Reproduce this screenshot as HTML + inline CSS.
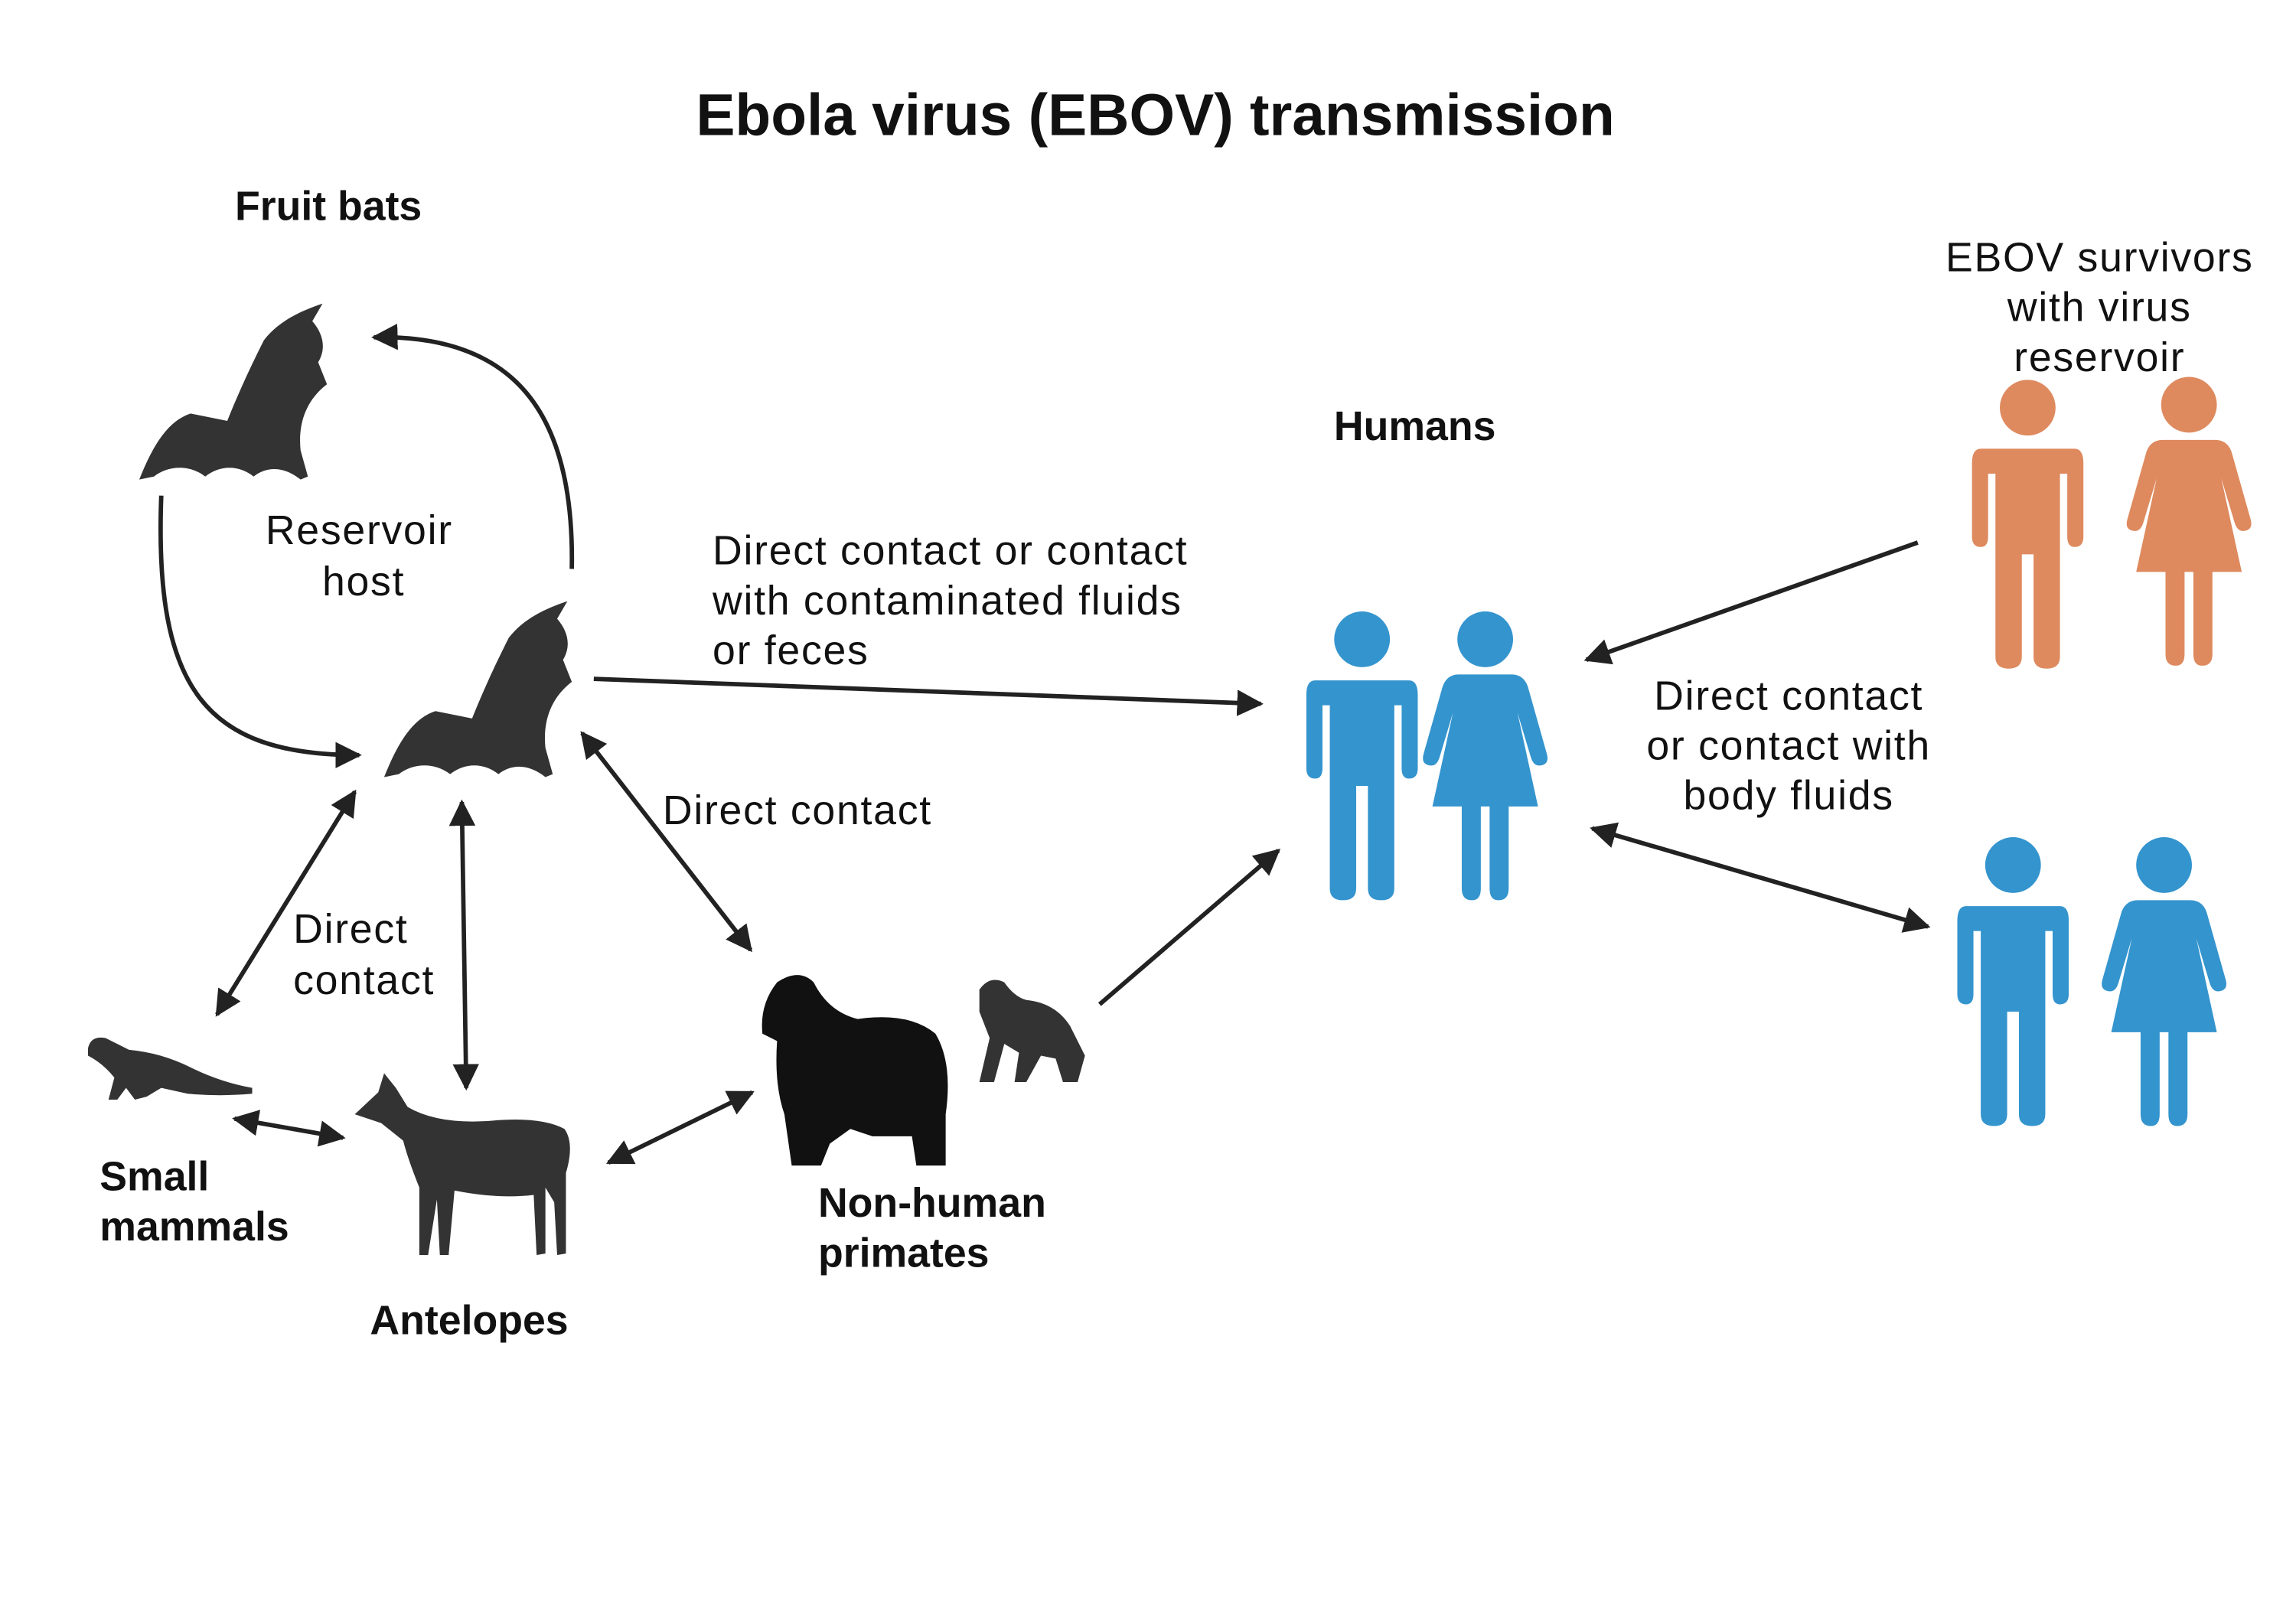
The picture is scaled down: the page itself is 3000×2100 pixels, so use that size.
<!DOCTYPE html>
<html><head><meta charset="utf-8"><style>
html,body{margin:0;padding:0;background:#fff;}
svg{display:block;}
text{font-family:"Liberation Sans",sans-serif;fill:#111;}
.r{letter-spacing:0.9px;}
</style></head><body>
<svg width="3000" height="2100" viewBox="0 0 1566 1096" xmlns="http://www.w3.org/2000/svg">
<defs>
<marker id="a" viewBox="0 0 10 10" refX="9" refY="5" markerWidth="6" markerHeight="6" orient="auto-start-reverse">
<path d="M0,0 L10,5 L0,10 z" fill="#222"/></marker>
<g id="bat">
<path d="M0,120 C10,95 20,80 35,75 L60,80 C70,55 80,35 85,25 C95,12 110,5 125,0 L118,12 C125,20 128,30 122,40 L128,55 C115,65 108,80 110,100 L115,118 L110,120 C100,112 88,110 78,118 C68,110 55,110 45,118 C35,110 20,110 10,118 Z" fill="#333"/>
</g>
<g id="man" fill="currentColor">
<circle cx="0" cy="0" r="19"/>
<path d="M-32,28 Q-38,28 -38,38 L-38,88 Q-38,95 -32,95 Q-27,95 -27,88 L-27,45 L-22,45 L-22,170 Q-22,178 -13,178 Q-4,178 -4,170 L-4,100 L4,100 L4,170 Q4,178 13,178 Q22,178 22,170 L22,45 L27,45 L27,88 Q27,95 32,95 Q38,95 38,88 L38,38 Q38,28 32,28 Z"/>
</g>
<g id="woman" fill="currentColor">
<circle cx="0" cy="0" r="19"/>
<path d="M-18,24 L18,24 Q26,24 29,32 L42,78 Q44,85 38,86 Q33,87 31,80 L22,50 L36,114 L16,114 L16,170 Q16,178 9,178 Q3,178 3,170 L3,114 L-3,114 L-3,170 Q-3,178 -9,178 Q-16,178 -16,170 L-16,114 L-36,114 L-22,50 L-31,80 Q-33,87 -38,86 Q-44,85 -42,78 L-29,32 Q-26,24 -18,24 Z"/>
</g>
</defs>

<text x="788" y="92" font-size="40" font-weight="bold" text-anchor="middle">Ebola virus (EBOV) transmission</text>
<text x="224" y="150" font-size="28" font-weight="bold" text-anchor="middle">Fruit bats</text>
<text x="965" y="300" font-size="28" font-weight="bold" text-anchor="middle">Humans</text>
<g class="r">
<text x="245" y="371" font-size="28" text-anchor="middle">Reservoir</text>
<text x="248" y="406" font-size="28" text-anchor="middle">host</text>
<text x="486" y="385" font-size="28">Direct contact or contact</text>
<text x="486" y="419" font-size="28">with contaminated fluids</text>
<text x="486" y="453" font-size="28">or feces</text>
<text x="452" y="562" font-size="28">Direct contact</text>
<text x="200" y="643" font-size="28">Direct</text>
<text x="200" y="678" font-size="28">contact</text>
<text x="1432" y="185" font-size="28" text-anchor="middle">EBOV survivors</text>
<text x="1432" y="219" font-size="28" text-anchor="middle">with virus</text>
<text x="1432" y="253" font-size="28" text-anchor="middle">reservoir</text>
<text x="1220" y="484" font-size="28" text-anchor="middle">Direct contact</text>
<text x="1220" y="518" font-size="28" text-anchor="middle">or contact with</text>
<text x="1220" y="552" font-size="28" text-anchor="middle">body fluids</text>
</g>
<text x="68" y="812" font-size="28" font-weight="bold">Small</text>
<text x="68" y="846" font-size="28" font-weight="bold">mammals</text>
<text x="320" y="910" font-size="28" font-weight="bold" text-anchor="middle">Antelopes</text>
<text x="558" y="830" font-size="28" font-weight="bold">Non-human</text>
<text x="558" y="864" font-size="28" font-weight="bold">primates</text>

<use href="#bat" transform="translate(95,207)"/>
<use href="#bat" transform="translate(262,410)"/>

<path d="M60,715 Q62,706 72,708 Q80,712 88,716 Q110,718 130,728 Q150,738 172,742 L172,746 Q150,748 128,746 L110,742 L100,748 L92,750 L86,742 L80,750 L74,750 L78,735 Q70,725 60,720 Z" fill="#333"/>
<path d="M242,760 L258,745 L262,732 L270,742 L278,755 Q300,768 340,764 Q370,762 385,770 Q392,780 386,800 L386,855 L380,856 L378,820 L372,810 L372,855 L366,856 L364,815 Q340,818 310,812 L306,856 L300,856 L298,818 L292,856 L286,856 L286,810 Q278,790 275,778 L260,766 Z" fill="#333"/>
<path d="M530,670 Q545,660 555,670 Q565,690 585,695 Q620,690 638,705 Q650,725 645,760 L645,795 L625,795 L622,775 L595,775 L580,770 L566,780 L560,795 L540,795 L535,760 Q528,740 530,710 L520,705 Q518,685 530,670 Z" fill="#111"/>
<path d="M668,675 Q675,665 685,670 Q692,680 700,682 Q720,684 730,700 L740,720 L735,738 L725,738 L720,722 L710,720 L700,738 L692,738 L695,718 L685,712 L678,738 L668,738 L675,708 L668,690 Z" fill="#333"/>

<g style="color:#3494ce">
<use href="#man" x="929" y="436"/>
<use href="#woman" x="1013" y="436"/>
<use href="#man" x="1373" y="590"/>
<use href="#woman" x="1476" y="590"/>
</g>
<g style="color:#de8a5e">
<use href="#man" x="1383" y="278"/>
<use href="#woman" x="1493" y="276"/>
</g>

<g stroke="#222" stroke-width="3" fill="none">
<path d="M110,338 C105,470 140,515 245,515" marker-end="url(#a)"/>
<path d="M390,388 C392,280 350,228 255,230" marker-end="url(#a)"/>
<line x1="405" y1="463" x2="860" y2="480" marker-end="url(#a)"/>
<line x1="397" y1="500" x2="512" y2="648" marker-start="url(#a)" marker-end="url(#a)"/>
<line x1="315" y1="547" x2="318" y2="742" marker-start="url(#a)" marker-end="url(#a)"/>
<line x1="242" y1="540" x2="148" y2="692" marker-start="url(#a)" marker-end="url(#a)"/>
<line x1="160" y1="763" x2="234" y2="776" marker-start="url(#a)" marker-end="url(#a)"/>
<line x1="415" y1="793" x2="513" y2="745" marker-start="url(#a)" marker-end="url(#a)"/>
<line x1="750" y1="685" x2="872" y2="580" marker-end="url(#a)"/>
<line x1="1308" y1="370" x2="1082" y2="450" marker-end="url(#a)"/>
<line x1="1086" y1="565" x2="1315" y2="632" marker-start="url(#a)" marker-end="url(#a)"/>
</g>
</svg>
</body></html>
